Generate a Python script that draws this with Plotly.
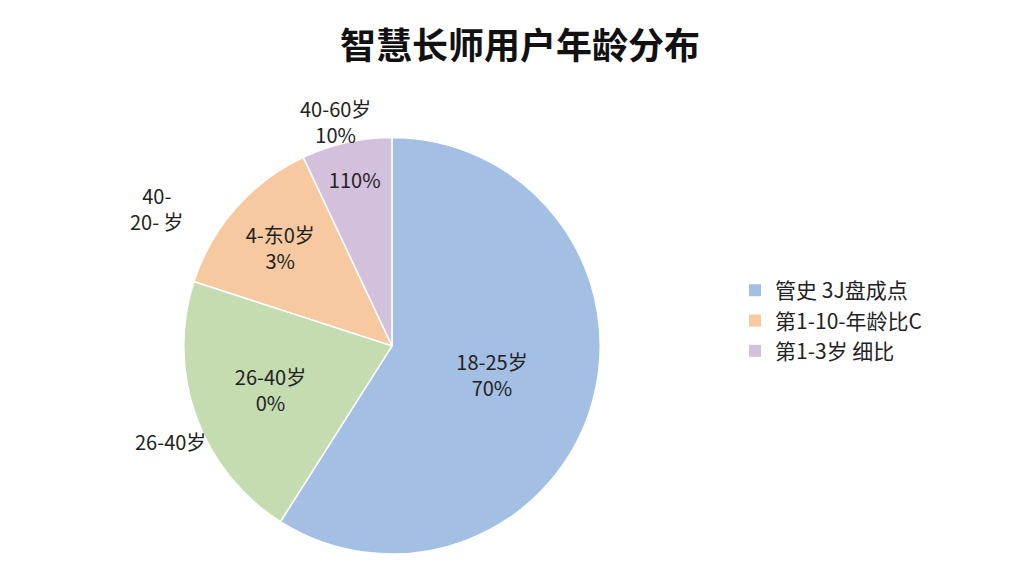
import plotly.graph_objects as go

labels = ["18-25岁", "26-40岁", "40-50岁", "40-60岁"]
values = [59, 21, 13, 7]
inner_text = ["18-25岁<br>70%", "26-40岁<br>0%", "4-东0岁<br>3%", "110%"]
colors = ["#a4bfe4", "#c5dcb0", "#f6c9a0", "#d3c0dc"]
legend_names = ["管史 3J盘成点", "第1-10-年龄比C", "第1-3岁 细比"]
legend_colors = ["#a4bfe4", "#f6c9a0", "#d3c0dc"]

font = "Noto Sans CJK SC"
fig = go.Figure()
fig.add_trace(go.Pie(
    labels=labels, values=values, text=inner_text, textinfo="text",
    textposition="inside", insidetextorientation="horizontal",
    sort=False, direction="clockwise", rotation=0,
    marker=dict(colors=colors, line=dict(color="white", width=1.5)),
    textfont=dict(size=20, color="#222", family=font),
    domain=dict(x=[0.160, 0.590], y=[0.052, 0.775]), showlegend=False,
))
for n, c in zip(legend_names, legend_colors):
    fig.add_trace(go.Scatter(x=[None], y=[None], mode="markers", name=n,
                             marker=dict(symbol="square", size=18, color=c)))
fig.update_layout(
    width=1024, height=576, margin=dict(l=0, r=0, t=0, b=0),
    paper_bgcolor="white", plot_bgcolor="white",
    xaxis=dict(visible=False), yaxis=dict(visible=False),
    font=dict(family=font, color="#222"),
    title=dict(text="<b>智慧长师用户年龄分布</b>", x=0.5, y=0.955, xanchor="center",
               yanchor="top", font=dict(size=36, family=font, color="#111")),
    legend=dict(x=0.71, y=0.545, xanchor="left", yanchor="top",
                font=dict(size=21, family=font), itemsizing="constant",
                tracegroupgap=26),
    annotations=[
        dict(text="40-60岁<br>10%", x=290/1024, y=1-113/576, xref="paper", yref="paper",
             showarrow=False, font=dict(size=20), yanchor="middle"),
        dict(text="40-<br>20- 岁", x=120/1024, y=1-200/576, xref="paper", yref="paper",
             showarrow=False, font=dict(size=20)),
        dict(text="26-40岁", x=125/1024, y=1-450/576, xref="paper", yref="paper",
             showarrow=False, font=dict(size=20)),
    ],
)
fig.write_html("out.html")
